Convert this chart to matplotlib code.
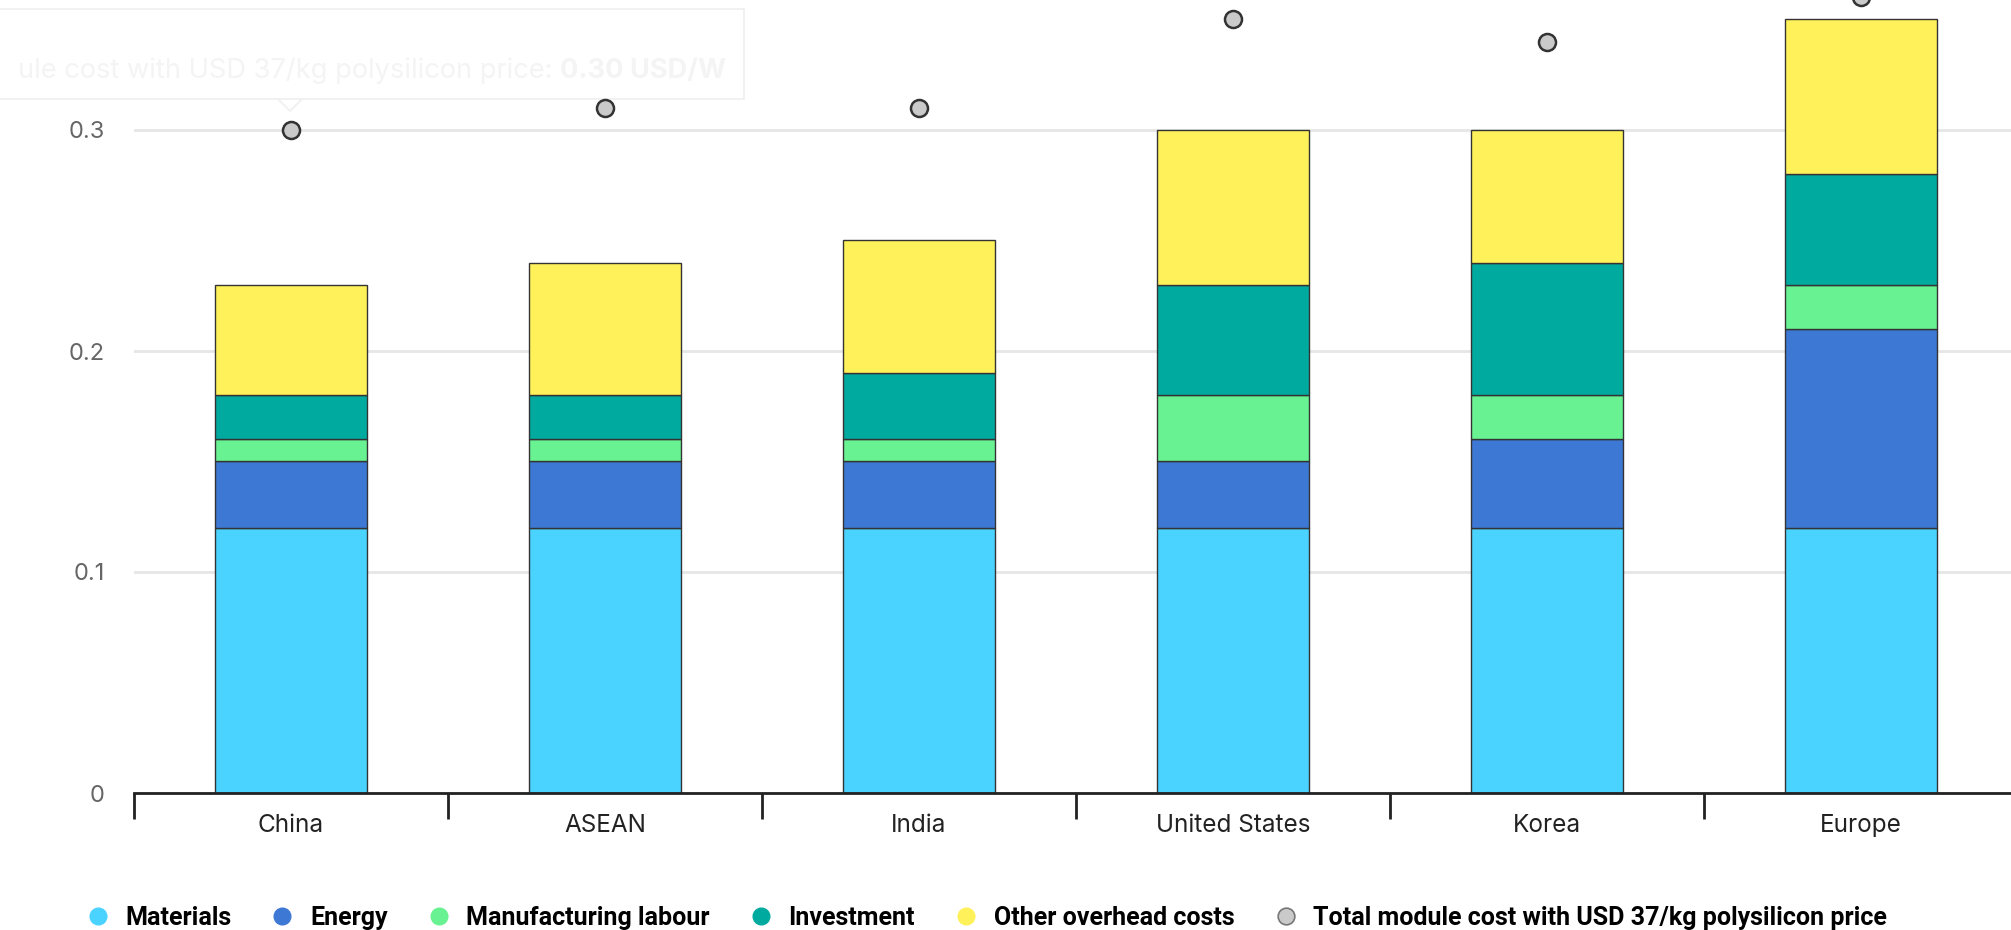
import matplotlib
matplotlib.use("Agg")
import matplotlib.pyplot as plt
from matplotlib.lines import Line2D
import numpy as np

# Module cost breakdown by region (USD/W)
regions = ["China", "ASEAN", "India", "United States", "Korea", "Europe"]
materials = [0.12, 0.12, 0.12, 0.12, 0.12, 0.12]
energy = [0.03, 0.03, 0.03, 0.03, 0.04, 0.09]
labour = [0.01, 0.01, 0.01, 0.03, 0.02, 0.02]
investment = [0.02, 0.02, 0.03, 0.05, 0.06, 0.05]
overhead = [0.05, 0.06, 0.06, 0.07, 0.06, 0.07]
total_37 = [0.30, 0.31, 0.31, 0.35, 0.34, 0.36]

series_names = ["Materials", "Energy", "Manufacturing labour", "Investment",
                "Other overhead costs"]
series_colors = ["#4AD3FF", "#3D78D4", "#69F291", "#00AA9F", "#FFF15A"]
total_name = "Total module cost with USD 37/kg polysilicon price"
yticks = [0, 0.1, 0.2, 0.3]
ytick_labels = ["0", "0.1", "0.2", "0.3"]

W, H = 2011, 930
fig = plt.figure(figsize=(W / 100, H / 100), dpi=100)
ax = fig.add_axes([134 / W, 137 / H, 1884 / W, 817.7 / H])
ax.patch.set_visible(False)
ax.set_zorder(2)

x = np.arange(len(regions))
bottom = np.zeros(len(regions))
for vals, name, col in zip([materials, energy, labour, investment, overhead],
                           series_names, series_colors):
    ax.bar(x, vals, width=0.487, bottom=bottom, color=col, edgecolor="#333333",
           linewidth=1.0, label=name, zorder=3)
    bottom += np.array(vals)

ax.scatter(x, total_37, s=150, color="#CACACA", edgecolor="#333333",
           linewidth=1.8, zorder=4, label=total_name, clip_on=False)

ax.set_xlim(-0.5, len(regions) - 0.5)
ax.set_ylim(0, 0.37)

for s in ["top", "right", "left"]:
    ax.spines[s].set_visible(False)
ax.spines["bottom"].set_color("#222222")
ax.spines["bottom"].set_linewidth(2)
ax.spines["bottom"].set_zorder(5)

ax.set_yticks(yticks)
ax.set_yticklabels(ytick_labels, fontsize=17, color="#666666", family="Inter")
ax.tick_params(axis="y", length=0, pad=21)
ax.yaxis.grid(True, color="#E6E6E6", linewidth=2, zorder=0)
ax.set_axisbelow(True)

ax.set_xticks(np.arange(len(regions) + 1) - 0.5)
ax.set_xticklabels([])
ax.tick_params(axis="x", which="major", length=19, width=2, color="#222222")
ax.set_xticks(x, minor=True)
ax.set_xticklabels(regions, minor=True, fontsize=17.5, color="#222222", family="Inter")
ax.tick_params(axis="x", which="minor", length=0, pad=15)

# Legend along the bottom edge
handles = [Line2D([], [], marker="o", linestyle="none", markersize=12,
                  markerfacecolor=c, markeredgecolor=c) for c in series_colors]
handles.append(Line2D([], [], marker="o", linestyle="none", markersize=12,
                      markerfacecolor="#CACACA", markeredgecolor="#777777",
                      markeredgewidth=1.2))
leg = fig.legend(handles, series_names + [total_name], loc="lower left",
                 bbox_to_anchor=(75 / W, -10 / H), ncol=6, frameon=False,
                 prop={"family": "Roboto", "weight": "bold", "size": 18},
                 handletextpad=0.6, columnspacing=1.55, handlelength=1.0,
                 borderaxespad=0.0)

# Faded hover label over the first bar (its left part runs off the canvas)
tip_color = "#F4F4F4"
tip_edge = "#EFEFEF"
box_x0, box_x1, box_top, box_bot, tip_y = -30, 744, 9, 99, 111
fig.add_artist(plt.Rectangle((box_x0 / W, 1 - box_bot / H),
                             (box_x1 - box_x0) / W, (box_bot - box_top) / H,
                             transform=fig.transFigure, facecolor="none",
                             edgecolor=tip_edge, linewidth=1.2, zorder=0))
fig.add_artist(Line2D([(290 - 12) / W, 290 / W, (290 + 12) / W],
                      [1 - box_bot / H, 1 - tip_y / H, 1 - box_bot / H],
                      transform=fig.transFigure, color=tip_edge, linewidth=1.2,
                      zorder=0))

tip_x0, tip_x1, tip_base = 18, 727, 78
tip_size = 20
tip_left = fig.text(tip_x0 / W, 1 - tip_base / H,
                    "ule cost with USD 37/kg polysilicon price: ", ha="left",
                    va="baseline", fontsize=tip_size, color=tip_color,
                    family="Inter", zorder=0)
tip_right = fig.text(0, 1 - tip_base / H, "0.30 USD/W", ha="left",
                     va="baseline", fontsize=tip_size, fontweight="bold",
                     color=tip_color, family="Inter", zorder=0)
fig.canvas.draw()
r = fig.canvas.get_renderer()
span = (tip_left.get_window_extent(r).width
        + tip_right.get_window_extent(r).width)
tip_size *= (tip_x1 - tip_x0) / span
tip_left.set_fontsize(tip_size)
tip_right.set_fontsize(tip_size)
fig.canvas.draw()
tip_right.set_x(tip_left.get_window_extent(r).x1 / W)

fig.savefig("out.png", dpi=100)
